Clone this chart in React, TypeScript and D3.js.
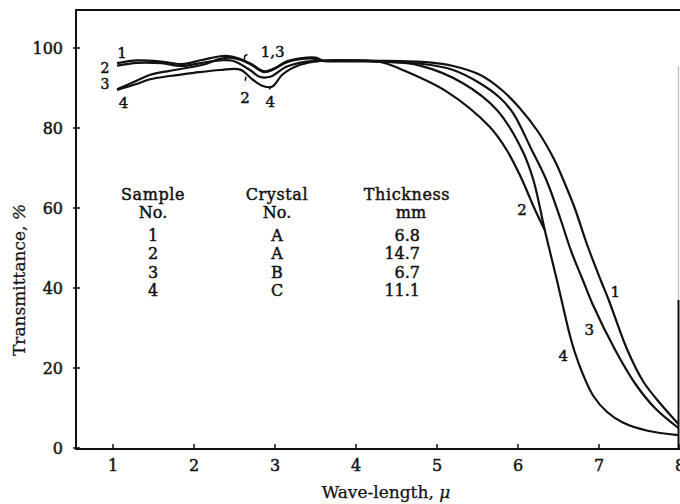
import React from "react";
import * as d3 from "d3";

type Pt = [number, number];

const xTicks = [1, 2, 3, 4, 5, 6, 7, 8];
const yTicks = [0, 20, 40, 60, 80, 100];

const curve1: Pt[] = [
  [1.05, 96.2], [1.3, 96.9], [1.6, 96.6], [1.85, 96.0], [2.1, 97.0], [2.35, 98.0],
  [2.48, 97.8], [2.69, 96.2], [2.86, 94.2], [2.98, 94.8], [3.14, 96.6], [3.31, 97.4],
  [3.5, 97.6], [3.6, 96.8], [3.8, 96.8], [4.3, 96.8], [4.9, 96.4], [5.2, 95.5],
  [5.53, 93.3], [5.8, 89.5], [6.02, 85], [6.25, 79], [6.45, 72], [6.56, 67],
  [6.7, 60], [6.85, 51], [7.02, 42], [7.12, 37], [7.35, 24.5], [7.55, 16.5],
  [7.77, 10.8], [7.98, 6],
];
const curve2: Pt[] = [
  [1.05, 95.6], [1.3, 96.3], [1.6, 96.2], [1.85, 95.5], [2.1, 96.3], [2.32, 96.9],
  [2.48, 96.8], [2.69, 94.5], [2.81, 92.8], [2.94, 92.8], [3.14, 95.3], [3.39, 96.6],
  [3.6, 96.8], [4.3, 96.5], [4.54, 94.8], [5.12, 89.1], [5.65, 80.3], [5.86, 74.5],
  [6.04, 67.5], [6.2, 60], [6.33, 54.5],
];
const curve3: Pt[] = [
  [1.05, 89.7], [1.29, 91.8], [1.46, 93.3], [1.7, 94.3], [2.11, 95.8], [2.32, 97.3],
  [2.48, 97.5], [2.69, 96.0], [2.86, 94.0], [2.98, 94.6], [3.14, 96.4], [3.31, 97.2],
  [3.5, 97.3], [3.6, 96.8], [4.3, 96.6], [4.83, 96.0], [5.2, 94.5], [5.53, 91.2],
  [5.78, 87.5], [5.94, 83.7], [6.17, 74.5], [6.35, 67], [6.52, 57.5], [6.66, 49],
  [6.8, 42], [6.92, 36], [7.2, 24.5], [7.45, 16], [7.69, 10], [7.98, 5],
];
const curve4: Pt[] = [
  [1.05, 89.5], [1.29, 91.0], [1.46, 92.2], [1.7, 93.0], [2.0, 93.8], [2.32, 94.5],
  [2.57, 94.6], [2.73, 92.0], [2.85, 90.5], [2.96, 90.3], [3.1, 93.5], [3.31, 95.8],
  [3.56, 96.8], [4.3, 96.6], [4.79, 95.6], [5.32, 91.2], [5.74, 84.5], [6.05, 74.5],
  [6.19, 67], [6.33, 54.5], [6.48, 42], [6.56, 35], [6.63, 29], [6.7, 24],
  [6.8, 18.5], [6.93, 13], [7.1, 9], [7.3, 6.3], [7.6, 4.3], [7.98, 3.2],
];
const curves = [curve1, curve2, curve3, curve4];

// curve labels: [text, wavelength, transmittance, fontSize]
const curveLabels: [string, number, number, number][] = [
  ["1", 1.11, 98.9, 15], ["2", 0.9, 95.0, 14], ["3", 0.9, 91.0, 14], ["4", 1.13, 86.4, 15],
  ["1,3", 2.97, 99.2, 15], ["2", 2.63, 87.7, 15], ["4", 2.94, 86.6, 15],
  ["2", 6.05, 59.5, 15], ["1", 7.2, 39.1, 15], ["3", 6.88, 29.5, 15], ["4", 6.56, 23.2, 15],
];

const sampleNo = ["1", "2", "3", "4"];
const crystalNo = ["A", "A", "B", "C"];
const thickness = ["6.8", "14.7", "6.7", "11.1"];

const W = 680;
const H = 504;
const FONT = "'DejaVu Serif', 'Liberation Serif', serif";

export default function App() {
  const x = d3.scaleLinear().domain([0.543, 8]).range([76, 680]);
  const y = d3.scaleLinear().domain([0, 100]).range([448, 48]);
  const line = d3
    .line<Pt>()
    .x((d) => x(d[0]))
    .y((d) => y(d[1]))
    .curve(d3.curveCatmullRom.alpha(0.5));

  const yTop = y(109.5);
  const yBot = y(0) + 1;
  const rightX = 678.5;

  const txt = {
    fontFamily: FONT,
    fill: "#111",
    stroke: "#111",
    strokeWidth: 0.45,
  } as const;

  const rowY = [235, 253.5, 272, 290.5];

  return (
    <svg
      width={W}
      height={H}
      viewBox={`0 0 ${W} ${H}`}
      style={{ position: "absolute", left: 0, top: 0, background: "#fff" }}
    >
      {/* frame */}
      <line x1={76} x2={76} y1={yTop} y2={yBot} stroke="#111" strokeWidth={2} />
      <line x1={75} x2={W} y1={yTop} y2={yTop} stroke="#111" strokeWidth={2} />
      <line x1={75} x2={W} y1={yBot} y2={yBot} stroke="#111" strokeWidth={2} />
      <line x1={rightX} x2={rightX} y1={y(95.5)} y2={y(37)} stroke="#bbb" strokeWidth={1.2} />
      <line x1={rightX} x2={rightX} y1={y(37)} y2={yBot} stroke="#111" strokeWidth={2} />

      {/* y ticks */}
      {yTicks.map((t) => (
        <g key={"y" + t}>
          <line x1={73} x2={80} y1={y(t)} y2={y(t)} stroke="#111" strokeWidth={1.5} />
          <text x={63} y={y(t)} dy="0.36em" textAnchor="end" fontSize={16} style={txt}>
            {t}
          </text>
        </g>
      ))}
      {/* x ticks */}
      {xTicks.map((t) => (
        <g key={"x" + t}>
          <line x1={x(t)} x2={x(t)} y1={yBot} y2={yBot - 5} stroke="#111" strokeWidth={1.5} />
          <text x={x(t)} y={465} dy="0.36em" textAnchor="middle" fontSize={16} style={txt}>
            {t}
          </text>
        </g>
      ))}

      {/* axis titles */}
      <text
        transform={`translate(19,${280}) rotate(-90)`}
        textAnchor="middle"
        dy="0.36em"
        fontSize={17}
        style={{ ...txt, strokeWidth: 0.25 }}
      >
        Transmittance, <tspan fontStyle="italic">%</tspan>
      </text>
      <text x={386} y={492} dy="0.36em" textAnchor="middle" fontSize={17} style={{ ...txt, strokeWidth: 0.25 }}>
        Wave-length, <tspan fontStyle="italic">μ</tspan>
      </text>

      {/* curves */}
      {curves.map((c, i) => (
        <path key={"c" + i} d={line(c) ?? ""} fill="none" stroke="#111" strokeWidth={2.2} strokeLinejoin="round" />
      ))}

      {/* leader marks for dip labels */}
      <path
        d={`M${x(2.66)},${y(98.3)} q-3,0 -3,3 l0,3`}
        fill="none"
        stroke="#111"
        strokeWidth={1.5}
      />
      <path d={`M${x(2.63)},${y(91.8)} l1,-4`} fill="none" stroke="#111" strokeWidth={1.5} />
      <path d={`M${x(2.94)},${y(89.6)} l-1,-3`} fill="none" stroke="#111" strokeWidth={1.5} />

      {/* curve labels */}
      {curveLabels.map(([s, lx, ly, fs], i) => (
        <text key={"l" + i} x={x(lx)} y={y(ly)} dy="0.36em" textAnchor="middle" fontSize={fs} style={txt}>
          {s}
        </text>
      ))}

      {/* table */}
      <g fontSize={16} style={txt}>
        <text x={153} y={194} dy="0.36em" textAnchor="middle" letterSpacing={0.6}>Sample</text>
        <text x={153} y={212} dy="0.36em" textAnchor="middle">No.</text>
        <text x={277} y={194} dy="0.36em" textAnchor="middle" letterSpacing={0.6}>Crystal</text>
        <text x={277} y={212} dy="0.36em" textAnchor="middle">No.</text>
        <text x={407} y={194} dy="0.36em" textAnchor="middle" letterSpacing={0.6}>Thickness</text>
        <text x={411} y={212} dy="0.36em" textAnchor="middle">mm</text>
        {sampleNo.map((s, i) => (
          <text key={"s" + i} x={153} y={rowY[i]} dy="0.36em" textAnchor="middle">{s}</text>
        ))}
        {crystalNo.map((s, i) => (
          <text key={"k" + i} x={277} y={rowY[i]} dy="0.36em" textAnchor="middle">{s}</text>
        ))}
        {thickness.map((s, i) => (
          <text key={"t" + i} x={420} y={rowY[i]} dy="0.36em" textAnchor="end">{s}</text>
        ))}
      </g>
    </svg>
  );
}
